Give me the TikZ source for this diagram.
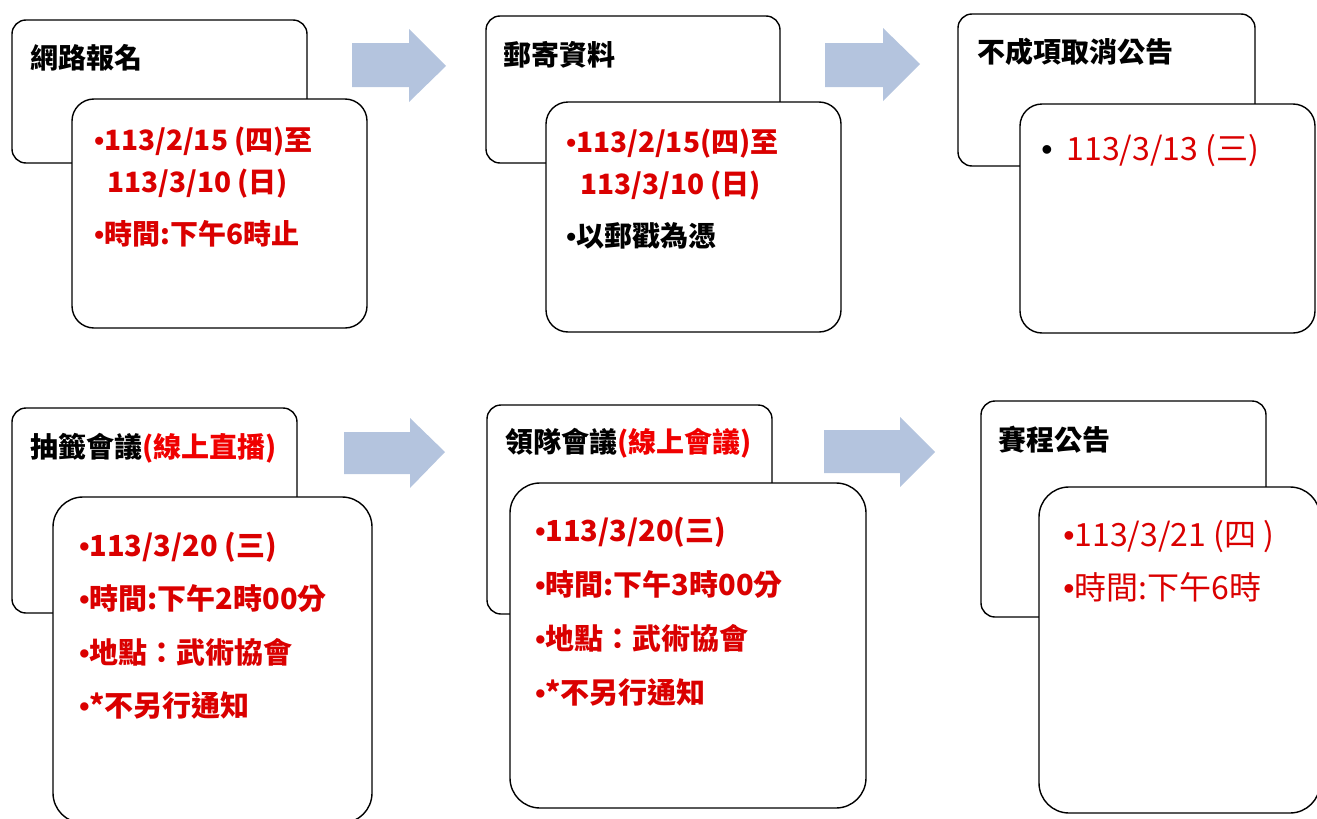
\documentclass[tikz,border=0pt]{standalone}
\usepackage{fontspec}
\setmainfont{Noto Sans CJK TC}
\newfontfamily\bulletfont{Liberation Sans}
\usetikzlibrary{fit}
\definecolor{flowblue}{RGB}{180,196,222}
\definecolor{datered}{RGB}{218,0,0}
\definecolor{notered}{RGB}{240,0,0}
\newcommand{\bu}{{\bulletfont\textbullet}}
\newcommand{\red}[1]{\textcolor{notered}{#1}}

\begin{document}
\begin{tikzpicture}[x=0.5pt,y=-0.5pt,
   card/.style={draw=black,line width=0.7pt,fill=white,inner sep=0pt},
   head/.style={anchor=west,inner sep=0pt,font=\fontsize{14}{17}\selectfont\bfseries},
   item/.style={anchor=west,inner sep=0pt,text=datered,font=\fontsize{14}{17}\selectfont\bfseries},
   bigitem/.style={item,font=\fontsize{14.5}{17}\selectfont\bfseries},
   plainitem/.style={item,font=\fontsize{16}{19}\selectfont}]
   \useasboundingbox (0,0) rectangle (1317,819);

   % top row
   \node[card,rounded corners=7pt,fit={(12,20) (307,163)}] (signback) {};
   \node[card,rounded corners=11pt,fit={(72,99) (367,328)}] (signfront) {};
   \node[head] (signtitle) at (30,58) {網路報名};
   \node[item] (sign1) at (94,142) {\bu 113/2/15 (四)至};
   \node[item] (sign2) at (107,184) {113/3/10 (日)};
   \node[item] (sign3) at (94,234) {\bu 時間:下午6時止};

   \fill[flowblue] (352,43) -- (409,43) -- (409,29) -- (446,66) -- (409,102) -- (409,87) -- (352,87) -- cycle;

   \node[card,rounded corners=7pt,fit={(486,16) (780,163)}] (mailback) {};
   \node[card,rounded corners=11pt,fit={(546,102) (841,332)}] (mailfront) {};
   \node[head] (mailtitle) at (503,55) {郵寄資料};
   \node[item] (mail1) at (566,144) {\bu 113/2/15(四)至};
   \node[item] (mail2) at (580,186) {113/3/10 (日)};
   \node[item,text=black] (mail3) at (566,236) {\bu 以郵戳為憑};

   \fill[flowblue] (825,43) -- (883,43) -- (883,28) -- (920,64) -- (883,101) -- (883,87) -- (825,87) -- cycle;

   \node[card,rounded corners=7pt,fit={(958,14) (1255,166)}] (cancelback) {};
   \node[card,rounded corners=11pt,fit={(1020,104) (1315,333)}] (cancelfront) {};
   \node[head] (canceltitle) at (977,52) {不成項取消公告};
   \node[plainitem] (cancel1) at (1041,151) {{\color{black}\bu}\hspace{7pt}113/3/13 (三)};

   % bottom row
   \node[card,rounded corners=7pt,fit={(12,408) (297,613)}] (drawback) {};
   \node[card,rounded corners=15pt,fit={(53,497) (372,823)}] (drawfront) {};
   \node[head] (drawtitle) at (30,448) {抽籤會議\red{(線上直播)}};
   \node[bigitem] (draw1) at (79,547) {\bu 113/3/20 (三)};
   \node[bigitem] (draw2) at (79,599) {\bu 時間:下午2時00分};
   \node[bigitem] (draw3) at (79,652) {\bu 地點：武術協會};
   \node[bigitem] (draw4) at (79,705) {\bu *不另行通知};

   \fill[flowblue] (344,432) -- (410,432) -- (410,418) -- (445,452) -- (410,488) -- (410,474) -- (344,474) -- cycle;

   \node[card,rounded corners=7pt,fit={(487,405) (772,614)}] (leadback) {};
   \node[card,rounded corners=15pt,fit={(510,483) (866,808)}] (leadfront) {};
   \node[head] (leadtitle) at (505,443) {領隊會議\red{(線上會議)}};
   \node[bigitem] (lead1) at (535,532) {\bu 113/3/20(三)};
   \node[bigitem] (lead2) at (535,585) {\bu 時間:下午3時00分};
   \node[bigitem] (lead3) at (535,638) {\bu 地點：武術協會};
   \node[bigitem] (lead4) at (535,692) {\bu *不另行通知};

   \fill[flowblue] (824,430) -- (900,430) -- (900,417) -- (935,452) -- (900,487) -- (900,473) -- (824,473) -- cycle;

   \node[card,rounded corners=7pt,fit={(981,401) (1266,617)}] (gameback) {};
   \node[card,rounded corners=15pt,fit={(1039,487) (1320,813)}] (gamefront) {};
   \node[head] (gametitle) at (998,440) {賽程公告};
   \node[plainitem] (game1) at (1063,537) {\bu 113/3/21 (四 )};
   \node[plainitem] (game2) at (1063,587) {\bu 時間:下午6時};
\end{tikzpicture}
\end{document}
